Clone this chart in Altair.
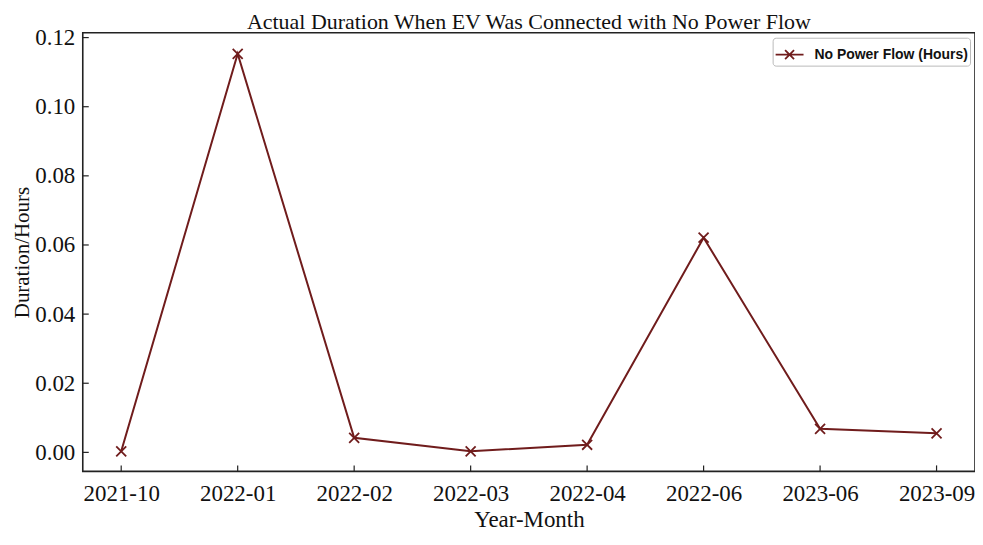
import altair as alt
import pandas as pd

months = ["2021-10", "2022-01", "2022-02", "2022-03", "2022-04", "2022-06", "2023-06", "2023-09"]
hours = [0.0003, 0.1153, 0.0042, 0.0003, 0.0022, 0.0621, 0.0068, 0.0055]
y_ticks = [0.00, 0.02, 0.04, 0.06, 0.08, 0.10, 0.12]
series = "No Power Flow (Hours)"
color = "#701c1c"

df = pd.DataFrame({"month": months, "hours": hours, "series": [series] * len(months)})
tick_df = pd.DataFrame({"t": y_ticks})
xt_df = pd.DataFrame({"month": months})

W, H = 895, 440
xscale = alt.Scale(type="point", domain=months, padding=0.33)
yscale = alt.Scale(domain=[-0.0055, 0.1214], nice=False, zero=False)
cscale = alt.Scale(domain=[series], range=[color])

serif = "Liberation Serif"

base = alt.Chart(df)
line = base.mark_line(strokeWidth=2).encode(
    x=alt.X("month:N", scale=xscale, sort=months,
            axis=alt.Axis(title="Year-Month", labelAngle=0, ticks=False, labelPadding=11,
                          labelFontSize=23, titleFontSize=23, labelFont=serif, titleFont=serif,
                          titleFontWeight="normal",
                          labelColor="#111", titleColor="#111", titlePadding=3, domain=False)),
    y=alt.Y("hours:Q", scale=yscale,
            axis=alt.Axis(title="Duration/Hours", values=y_ticks, format=".2f", ticks=False,
                          labelPadding=8, labelFontSize=23, titleFontSize=21, labelFont=serif,
                          titleFont=serif, titleFontWeight="normal",
                          labelColor="#111", titleColor="#111", titlePadding=2,
                          grid=False, domain=False)),
    color=alt.Color("series:N", scale=cscale,
                    legend=alt.Legend(title=None, orient="top-right", offset=5,
                                      symbolType="M-1,0L1,0M-0.32,-0.32L0.32,0.32M-0.32,0.32L0.32,-0.32",
                                      symbolSize=784, symbolStrokeWidth=1.8,
                                      symbolFillColor="transparent", symbolOpacity=1,
                                      labelFont="Liberation Sans", labelFontWeight="bold",
                                      labelFontSize=14, labelColor="#111", labelOffset=10,
                                      strokeColor="#bbb", cornerRadius=3, padding=2,
                                      fillColor="white")),
)
points = base.mark_point(shape="M-1,-1L1,1M-1,1L1,-1", filled=False, size=100,
                         strokeWidth=1.8, opacity=1).encode(
    x=alt.X("month:N", scale=xscale, sort=months),
    y=alt.Y("hours:Q", scale=yscale),
    color=alt.Color("series:N", scale=cscale),
)
yticks = alt.Chart(tick_df).mark_rule(color="#222", strokeWidth=1.2).encode(
    x=alt.value(0), x2=alt.value(6), y=alt.Y("t:Q", scale=yscale)
)
xticks = alt.Chart(xt_df).mark_rule(color="#222", strokeWidth=1.2).encode(
    x=alt.X("month:N", scale=xscale, sort=months), y=alt.value(H), y2=alt.value(H - 6)
)

chart = alt.layer(line, points, yticks, xticks).properties(
    width=W, height=H,
    title=alt.Title("Actual Duration When EV Was Connected with No Power Flow",
                    font=serif, fontSize=22, fontWeight="normal", color="#111", offset=-7),
    autosize=alt.AutoSizeParams(type="none"),
    padding={"left": 75, "top": 24, "right": 0, "bottom": 65},
).configure(background="white").configure_view(stroke="#222", strokeWidth=1.6)

chart.save("out.html", embed_options={"renderer": "svg", "actions": False})
